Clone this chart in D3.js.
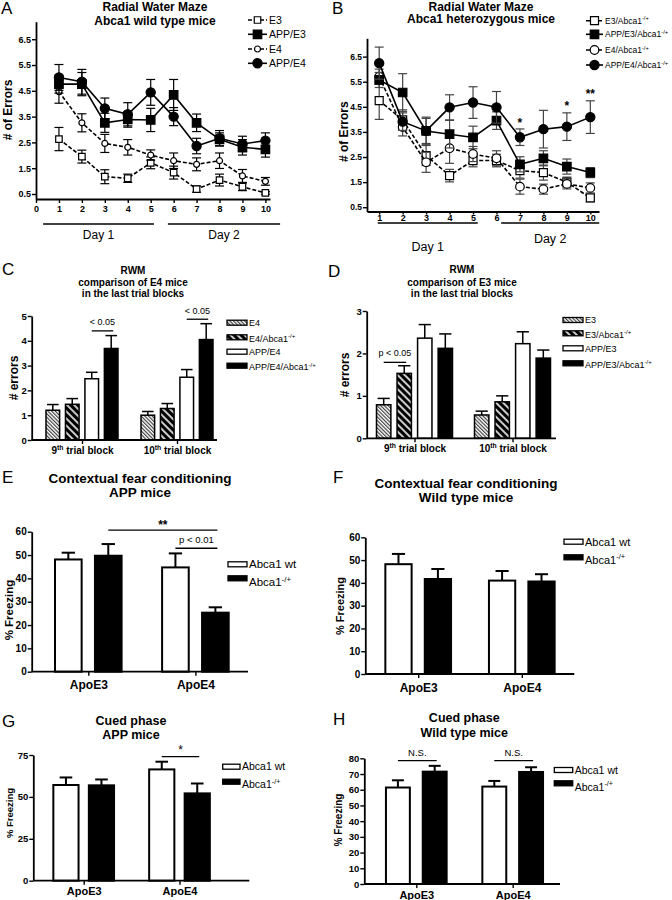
<!DOCTYPE html>
<html>
<head>
<meta charset="utf-8">
<script src="https://cdn.jsdelivr.net/npm/d3@7"></script>
<style>
body { margin: 0; background: #fff; }
svg { display: block; }
</style>
</head>
<body>
<svg id="fig" width="672" height="900"></svg>
<script>
// ---------- data ----------
var blocks = [1, 2, 3, 4, 5, 6, 7, 8, 9, 10];
var errTicks = [0.5, 1.5, 2.5, 3.5, 4.5, 5.5, 6.5];

// A: Abca1 wild type mice
var aLabels   = ["E3", "APP/E3", "E4", "APP/E4"];
var aE3       = [2.63, 1.95, 1.17, 1.11, 1.71, 1.33, 0.69, 1.04, 0.78, 0.54];
var aE3Err    = [0.45, 0.25, 0.27, 0.16, 0.23, 0.25, 0.12, 0.23, 0.15, 0.05];
var aAppE3    = [4.76, 4.76, 3.26, 3.39, 3.37, 4.34, 3.26, 2.62, 2.31, 2.23];
var aAppE3Err = [0.35, 0.45, 0.37, 0.3, 0.45, 0.6, 0.34, 0.25, 0.3, 0.3];
var aE4       = [4.47, 3.26, 2.46, 2.31, 2.01, 1.79, 1.65, 1.79, 1.2, 0.99];
var aE4Err    = [0.45, 0.35, 0.35, 0.3, 0.2, 0.3, 0.25, 0.3, 0.25, 0.15];
var aAppE4    = [5.02, 4.85, 3.82, 3.59, 4.44, 3.5, 2.36, 2.66, 2.44, 2.57];
var aAppE4Err = [0.5, 0.48, 0.4, 0.45, 0.5, 0.35, 0.3, 0.3, 0.3, 0.3];

// B: Abca1 heterozygous mice
var bLabels   = ["E3/Abca1^-/+", "APP/E3/Abca1^-/+", "E4/Abca1^-/+", "APP/E4/Abca1^-/+"];
var bE3       = [4.75, 3.98, 2.56, 1.76, 2.36, 2.36, 1.96, 1.88, 1.5, 0.87];
var bE3Err    = [0.75, 0.4, 0.4, 0.25, 0.25, 0.25, 0.3, 0.3, 0.2, 0.15];
var bAppE3    = [5.57, 5.07, 3.54, 3.41, 3.28, 3.95, 2.21, 2.45, 2.12, 1.88];
var bAppE3Err = [0.3, 0.75, 0.5, 0.55, 0.45, 0.35, 0.3, 0.3, 0.3, 0.2];
var bE4       = [5.7, 3.69, 2.29, 2.85, 2.62, 2.45, 1.32, 1.22, 1.43, 1.27];
var bE4Err    = [0.3, 0.35, 0.4, 0.6, 0.3, 0.3, 0.3, 0.2, 0.2, 0.2];
var bAppE4    = [6.24, 3.91, 3.54, 4.48, 4.67, 4.48, 3.29, 3.61, 3.71, 4.09];
var bAppE4Err = [0.64, 0.35, 0.55, 0.5, 0.63, 0.63, 0.33, 0.75, 0.55, 0.65];
var bStarBlocks = [7, 9, 10];
var bStarLevels = [3.98, 4.64, 5.13];
var bStarText   = ["*", "*", "**"];

var days = ["Day 1", "Day 2"];

// C / D: last trial blocks
var trialGroups = ["9^th^ trial block", "10^th^ trial block"];
var cLabels = ["E4", "E4/Abca1^-/+", "APP/E4", "APP/E4/Abca1^-/+"];
var cMeans  = [[1.2, 1.44, 2.47, 3.69], [1.0, 1.27, 2.53, 4.05]];
var cErrs   = [[0.23, 0.23, 0.26, 0.52], [0.15, 0.2, 0.31, 0.64]];
var dLabels = ["E3", "E3/Abca1^-/+", "APP/E3", "APP/E3/Abca1^-/+"];
var dMeans  = [[0.79, 1.53, 2.36, 2.12], [0.55, 0.86, 2.23, 1.89]];
var dErrs   = [[0.15, 0.18, 0.32, 0.34], [0.09, 0.14, 0.28, 0.19]];

// E-H: fear conditioning
var apoGroups = ["ApoE3", "ApoE4"];
var abcaLabels = ["Abca1 wt", "Abca1^-/+"];
var eMeans = [[48.1, 49.7], [44.7, 25.3]];
var eErrs  = [[2.9, 5.0], [6.0, 2.3]];
var fMeans = [[48.2, 41.7], [41.0, 40.6]];
var fErrs  = [[4.5, 4.4], [4.2, 3.2]];
var gMeans = [[57.1, 56.9], [66.4, 52.1]];
var gErrs  = [[4.5, 3.5], [4.6, 5.9]];
var hMeans = [[61.4, 71.5], [62.0, 71.3]];
var hErrs  = [[4.6, 3.7], [3.6, 3.0]];

// ---------- helpers ----------
var SANS = '"Liberation Sans", Arial, Helvetica, sans-serif';
var svg = d3.select("#fig").attr("font-family", SANS);

var defs = svg.append("defs");
defs.append("pattern").attr("id", "hatchLight").attr("patternUnits", "userSpaceOnUse")
  .attr("width", 2.6).attr("height", 2.6).attr("patternTransform", "rotate(-45)")
  .call(function (p) {
    p.append("rect").attr("width", 2.6).attr("height", 2.6).attr("fill", "#fff");
    p.append("line").attr("x1", 0.6).attr("x2", 0.6).attr("y1", 0).attr("y2", 2.6)
      .attr("stroke", "#333").attr("stroke-width", 1.1);
  });
defs.append("pattern").attr("id", "hatchDark").attr("patternUnits", "userSpaceOnUse")
  .attr("width", 5).attr("height", 5).attr("patternTransform", "rotate(-45)")
  .call(function (p) {
    p.append("rect").attr("width", 5).attr("height", 5).attr("fill", "#000");
    p.append("line").attr("x1", 1).attr("x2", 1).attr("y1", 0).attr("y2", 5)
      .attr("stroke", "#fff").attr("stroke-width", 1.6);
  });

// text with ^superscript^ segments
function rich(sel, s, size) {
  var parts = s.split("^");
  var up = 0.4 * size;
  parts.forEach(function (p, i) {
    if (!p) return;
    var t = sel.append("tspan").text(p);
    if (i % 2 === 1) t.attr("font-size", size * 0.68).attr("dy", -up);
    else if (i > 0) t.attr("dy", up);
  });
}

function letter(x, y, t) {
  svg.append("text").attr("x", x).attr("y", y).attr("font-size", 17).text(t);
}

function title(cx, ys, lines, size) {
  lines.forEach(function (l, i) {
    svg.append("text").attr("x", cx).attr("y", ys[i]).attr("text-anchor", "middle")
      .attr("font-weight", "bold").attr("font-size", size).text(l);
  });
}

function yTitle(x, cy, t, size) {
  svg.append("text").attr("transform", "translate(" + x + "," + cy + ") rotate(-90)")
    .attr("text-anchor", "middle").attr("font-weight", "bold").attr("font-size", size).text(t);
}

function styleAxis(g, size) {
  g.attr("font-family", SANS).attr("font-size", size);
  g.select(".domain").attr("stroke-width", 1.8);
  g.selectAll(".tick line").attr("stroke-width", 1.4);
  g.selectAll(".tick text").attr("font-weight", "bold").attr("fill", "#000");
}

function symbolPath(st) {
  var area = st.shape === "square" ? st.size * st.size : Math.PI * st.size * st.size;
  return d3.symbol().type(st.shape === "square" ? d3.symbolSquare : d3.symbolCircle).size(area)();
}

// ---------- line panels (A, B) ----------
function linePanel(p) {
  var x = d3.scaleLinear().domain(p.xDomain).range(p.xRange);
  var y = d3.scaleLinear().domain(p.yDomain).range(p.yRange);
  var g = svg.append("g");

  var ya = g.append("g").attr("transform", "translate(" + p.xRange[0] + ",0)")
    .call(d3.axisLeft(y).tickValues(errTicks).tickSize(4).tickSizeOuter(0)
      .tickPadding(1).tickFormat(d3.format(".1f")));
  styleAxis(ya, p.yTickSize);
  var xa = g.append("g").attr("transform", "translate(0," + p.yRange[0] + ")")
    .call(d3.axisBottom(x).tickValues(p.xTicks).tickSize(p.xTickSize).tickSizeOuter(0)
      .tickPadding(p.xPad).tickFormat(d3.format("d")));
  styleAxis(xa, 9);

  p.order.forEach(function (i) {
    var st = p.styles[i], vals = p.values[i], errs = p.errors[i];
    var eg = g.append("g").attr("stroke", p.errColor).attr("stroke-width", 1.2);
    vals.forEach(function (v, k) {
      var cx = x(blocks[k]), hi = y(v + errs[k]), lo = y(v - errs[k]);
      eg.append("line").attr("x1", cx).attr("x2", cx).attr("y1", hi).attr("y2", lo);
      eg.append("line").attr("x1", cx - 4.5).attr("x2", cx + 4.5).attr("y1", hi).attr("y2", hi);
      eg.append("line").attr("x1", cx - 4.5).attr("x2", cx + 4.5).attr("y1", lo).attr("y2", lo);
    });
    g.append("path").datum(vals)
      .attr("fill", "none").attr("stroke", "#000").attr("stroke-width", 1.6)
      .attr("stroke-dasharray", st.dash)
      .attr("d", d3.line().x(function (d, k) { return x(blocks[k]); }).y(function (d) { return y(d); }));
    g.selectAll(null).data(vals).enter().append("path")
      .attr("transform", function (d, k) { return "translate(" + x(blocks[k]) + "," + y(d) + ")"; })
      .attr("d", symbolPath(st))
      .attr("fill", st.fill).attr("stroke", "#000").attr("stroke-width", 1.2);
  });

  // day brackets
  days.forEach(function (d, i) {
    var r = p.dayRanges[i];
    g.append("line").attr("x1", x(r[0])).attr("x2", x(r[1]))
      .attr("y1", p.dayLineY).attr("y2", p.dayLineY)
      .attr("stroke", "#000").attr("stroke-width", 1.5);
    g.append("text").attr("x", x((r[0] + r[1]) / 2)).attr("y", p.dayLabelY[i])
      .attr("text-anchor", "middle").attr("font-size", p.daySize).text(d);
  });

  // legend
  p.labels.forEach(function (l, i) {
    var st = p.styles[i], ly = p.legendY[i];
    g.append("line").attr("x1", p.legendX[0]).attr("x2", p.legendX[1]).attr("y1", ly).attr("y2", ly)
      .attr("stroke", "#000").attr("stroke-width", 1.6).attr("stroke-dasharray", st.dash);
    g.append("path").attr("transform", "translate(" + (p.legendX[0] + p.legendX[1]) / 2 + "," + ly + ")")
      .attr("d", symbolPath(st)).attr("fill", st.fill).attr("stroke", "#000").attr("stroke-width", 1.2);
    var t = g.append("text").attr("x", p.legendX[1] + 2).attr("y", ly + p.legendSize * 0.36)
      .attr("font-size", p.legendSize);
    rich(t, l, p.legendSize);
  });

  return { x: x, y: y, g: g };
}

letter(1, 14, "A");
title(155, [10.5, 24.5], ["Radial Water Maze", "Abca1 wild type mice"], 12);
yTitle(12, 110, "# of Errors", 12);
linePanel({
  xDomain: [0, 10.2], xRange: [36, 270],
  yDomain: [0.306, 7.18], yRange: [199, 21.7], yTickSize: 9,
  xTicks: [0].concat(blocks), xTickSize: 4, xPad: 3,
  values: [aE3, aAppE3, aE4, aAppE4],
  errors: [aE3Err, aAppE3Err, aE4Err, aAppE4Err],
  styles: [
    { dash: "4,2", shape: "square", size: 6.5, fill: "#fff" },
    { dash: null, shape: "square", size: 8.5, fill: "#000" },
    { dash: "4,2", shape: "circle", size: 3, fill: "#fff" },
    { dash: null, shape: "circle", size: 4.6, fill: "#000" }
  ],
  order: [0, 2, 1, 3], errColor: "#000",
  dayRanges: [[0.31, 5.14], [5.75, 10.64]], dayLineY: 224, dayLabelY: [239, 239], daySize: 12,
  labels: aLabels, legendX: [248, 267], legendY: [20, 34.3, 49, 63.3], legendSize: 10.5
});

letter(332, 14, "B");
title(481, [10.5, 23], ["Radial Water Maze", "Abca1 heterozygous mice"], 12);
yTitle(347.5, 131.7, "# of Errors", 12);
var pb = linePanel({
  xDomain: [0.48, 10.37], xRange: [367, 599],
  yDomain: [0.33, 7.23], yRange: [211.5, 38.3], yTickSize: 8.5,
  xTicks: blocks, xTickSize: 3, xPad: 0,
  values: [bE3, bAppE3, bE4, bAppE4],
  errors: [bE3Err, bAppE3Err, bE4Err, bAppE4Err],
  styles: [
    { dash: "4,2", shape: "square", size: 8, fill: "#fff" },
    { dash: null, shape: "square", size: 8.5, fill: "#000" },
    { dash: "4,2", shape: "circle", size: 4.3, fill: "#fff" },
    { dash: null, shape: "circle", size: 4.6, fill: "#000" }
  ],
  order: [0, 2, 1, 3], errColor: "#444",
  dayRanges: [[0.94, 5.2], [6.2, 10.38]], dayLineY: 223, dayLabelY: [251, 243], daySize: 12.5,
  labels: bLabels, legendX: [586, 603], legendY: [20.7, 34.3, 50, 65], legendSize: 8.5
});
bStarBlocks.forEach(function (b, i) {
  pb.g.append("text").attr("x", pb.x(b)).attr("y", pb.y(bStarLevels[i]) + 7)
    .attr("text-anchor", "middle").attr("font-weight", "bold").attr("font-size", 12).text(bStarText[i]);
});

// ---------- bar panels (C-H) ----------
function barPanel(p) {
  var x0 = d3.scalePoint().domain(p.groups).range(p.groupRange);
  var x1 = d3.scaleBand().domain(d3.range(p.fills.length)).range(p.inner).paddingInner(p.pad);
  var y = d3.scaleLinear().domain(p.yDomain).range(p.yRange);
  var g = svg.append("g");
  var bw = x1.bandwidth();
  function cx(gi, si) { return x0(p.groups[gi]) + x1(si) + bw / 2; }

  p.means.forEach(function (row, gi) {
    row.forEach(function (m, si) {
      var c = cx(gi, si), top = y(m + p.errs[gi][si]);
      g.append("line").attr("x1", c).attr("x2", c).attr("y1", y(m)).attr("y2", top)
        .attr("stroke", "#000").attr("stroke-width", p.stroke);
      g.append("line").attr("x1", c - bw * p.cap / 2).attr("x2", c + bw * p.cap / 2)
        .attr("y1", top).attr("y2", top).attr("stroke", "#000").attr("stroke-width", p.stroke);
      g.append("rect").attr("x", c - bw / 2).attr("width", bw)
        .attr("y", y(m)).attr("height", y(p.yDomain[0]) - y(m))
        .attr("fill", p.fills[si]).attr("stroke", "#000").attr("stroke-width", p.stroke);
    });
  });

  var ya = g.append("g").attr("transform", "translate(" + p.axisX + ",0)")
    .call(d3.axisLeft(y).tickValues(p.yTicks).tickSize(4).tickSizeOuter(0).tickPadding(1)
      .tickFormat(d3.format("d")));
  styleAxis(ya, p.yTickSize);
  var base = y(p.yDomain[0]);
  var xa = g.append("g").attr("transform", "translate(0," + base + ")")
    .call(d3.axisBottom(x0).tickSize(4).tickPadding(p.xPad));
  styleAxis(xa, p.xLabelSize);
  xa.select(".domain").remove();
  xa.selectAll(".tick text").each(function (d) {
    var t = d3.select(this).text("");
    rich(t, d, p.xLabelSize);
  });
  g.append("line").attr("x1", p.axisX).attr("x2", p.axisRight).attr("y1", base).attr("y2", base)
    .attr("stroke", "#000").attr("stroke-width", 1.8);

  (p.brackets || []).forEach(function (b) {
    var ly = y(b.level), xa1 = cx(b.from[0], b.from[1]), xb = cx(b.to[0], b.to[1]) + 2;
    g.append("line").attr("x1", xa1).attr("x2", xb).attr("y1", ly).attr("y2", ly)
      .attr("stroke", "#000").attr("stroke-width", 1.3);
    g.append("text").attr("x", (xa1 + xb) / 2).attr("y", ly - b.gap)
      .attr("text-anchor", "middle").attr("font-size", b.size)
      .attr("font-weight", b.bold ? "bold" : "normal").text(b.text);
  });

  p.labels.forEach(function (l, i) {
    var ly = p.legendY[i];
    g.append("rect").attr("x", p.legendX).attr("width", p.legendW)
      .attr("y", ly - p.legendH / 2).attr("height", p.legendH)
      .attr("fill", p.fills[i]).attr("stroke", "#000").attr("stroke-width", 1.3);
    var shift = l.indexOf("^") >= 0 ? p.supShift : 0;
    var t = g.append("text").attr("x", p.legendX + p.legendW + 2)
      .attr("y", ly + p.legendSize * 0.36 + shift).attr("font-size", p.legendSize);
    rich(t, l, p.legendSize);
  });
}

var rwmFills = ["url(#hatchLight)", "url(#hatchDark)", "#fff", "#000"];
var abcaFills = ["#fff", "#000"];

letter(2, 275, "C");
title(133, [273.5, 286, 297], ["RWM", "comparison of E4 mice", "in the last trial blocks"], 10);
yTitle(18, 378, "# errors", 12);
barPanel({
  groups: trialGroups, groupRange: [82, 177], inner: [-36, 36], pad: 0.3,
  yDomain: [0, 5], yRange: [440, 316], yTicks: [0, 1, 2, 3, 4, 5], yTickSize: 9.5,
  axisX: 31.7, axisRight: 217, xPad: 3, xLabelSize: 10,
  means: cMeans, errs: cErrs, fills: rwmFills, stroke: 1.5, cap: 0.85,
  brackets: [
    { from: [0, 2], to: [0, 3], level: 4.4, text: "< 0.05", size: 9, gap: 6 },
    { from: [1, 2], to: [1, 3], level: 4.87, text: "< 0.05", size: 9, gap: 5 }
  ],
  labels: cLabels, legendX: 227, legendW: 20, legendH: 5,
  legendY: [322.7, 337.3, 351.7, 365.7], legendSize: 9, supShift: 1.5
});

letter(328, 277, "D");
title(462, [273, 285.5, 297], ["RWM", "comparison of E3 mice", "in the last trial blocks"], 10);
yTitle(349, 375, "# errors", 12);
barPanel({
  groups: trialGroups, groupRange: [414.5, 512.5], inner: [-38, 38], pad: 0.3,
  yDomain: [0, 3], yRange: [438.3, 311], yTicks: [0, 1, 2, 3], yTickSize: 9.5,
  axisX: 366.7, axisRight: 556, xPad: 3, xLabelSize: 10,
  means: dMeans, errs: dErrs, fills: rwmFills, stroke: 1.5, cap: 0.85,
  brackets: [
    { from: [0, 0], to: [0, 1], level: 1.79, text: "p < 0.05", size: 9, gap: 6.3 }
  ],
  labels: dLabels, legendX: 563, legendW: 20, legendH: 5,
  legendY: [320, 333.3, 348.3, 363.3], legendSize: 9, supShift: 1.5
});

letter(2, 483, "E");
title(140, [483, 497], ["Contextual fear conditioning", "APP mice"], 13.5);
yTitle(13, 610, "% Freezing", 11.5);
barPanel({
  groups: apoGroups, groupRange: [88.3, 195.4], inner: [-33.3, 33.3], pad: 1 / 3,
  yDomain: [0, 60], yRange: [671.7, 531.7], yTicks: [0, 10, 20, 30, 40, 50, 60], yTickSize: 10,
  axisX: 31.7, axisRight: 248, xPad: 5, xLabelSize: 12,
  means: eMeans, errs: eErrs, fills: abcaFills, stroke: 2, cap: 0.5,
  brackets: [
    { from: [0, 1], to: [1, 1], level: 60.7, text: "**", size: 12, gap: 1, bold: true },
    { from: [1, 0], to: [1, 1], level: 52.9, text: "p < 0.01", size: 9.5, gap: 5 }
  ],
  labels: abcaLabels, legendX: 228, legendW: 19, legendH: 5,
  legendY: [564.3, 578.3], legendSize: 11.5, supShift: 4
});

letter(333, 483, "F");
title(466, [488, 502], ["Contextual fear conditioning", "Wild type mice"], 13.5);
yTitle(344, 606, "% Freezing", 11);
barPanel({
  groups: apoGroups, groupRange: [418.2, 521.8], inner: [-32.85, 32.85], pad: 1 / 3,
  yDomain: [0, 60], yRange: [674, 537.3], yTicks: [0, 10, 20, 30, 40, 50, 60], yTickSize: 10,
  axisX: 365.3, axisRight: 574.3, xPad: 5, xLabelSize: 12,
  means: fMeans, errs: fErrs, fills: abcaFills, stroke: 2, cap: 0.5,
  labels: abcaLabels, legendX: 564, legendW: 19, legendH: 5,
  legendY: [541.7, 557.3], legendSize: 11, supShift: 2.5
});

letter(2, 727, "G");
title(131, [725, 738.5], ["Cued phase", "APP mice"], 12.5);
yTitle(12.5, 813, "% Freezing", 9.5);
barPanel({
  groups: apoGroups, groupRange: [83.7, 179.5], inner: [-30.35, 30.35], pad: 0.29,
  yDomain: [0, 75], yRange: [880.7, 755], yTicks: [0, 25, 50, 75], yTickSize: 9.5,
  axisX: 33.3, axisRight: 249.3, xPad: 3, xLabelSize: 11,
  means: gMeans, errs: gErrs, fills: abcaFills, stroke: 2, cap: 0.5,
  brackets: [
    { from: [1, 0], to: [1, 1], level: 74, text: "*", size: 12, gap: 3 }
  ],
  labels: abcaLabels, legendX: 222.7, legendW: 17.3, legendH: 5,
  legendY: [766.7, 781.7], legendSize: 10.5, supShift: 3
});

letter(333, 725, "H");
title(464.3, [721.5, 737], ["Cued phase", "Wild type mice"], 12.5);
yTitle(342, 820, "% Freezing", 10);
barPanel({
  groups: apoGroups, groupRange: [416.3, 512.7], inner: [-30.35, 30.35], pad: 0.35,
  yDomain: [0, 80], yRange: [884, 758.3], yTicks: [0, 10, 20, 30, 40, 50, 60, 70, 80], yTickSize: 9.5,
  axisX: 364.3, axisRight: 560, xPad: 3, xLabelSize: 11,
  means: hMeans, errs: hErrs, fills: abcaFills, stroke: 2, cap: 0.5,
  brackets: [
    { from: [0, 0], to: [0, 1], level: 78.5, text: "N.S.", size: 9.5, gap: 4.7 },
    { from: [1, 0], to: [1, 1], level: 78.5, text: "N.S.", size: 9.5, gap: 4.7 }
  ],
  labels: abcaLabels, legendX: 554.3, legendW: 18.4, legendH: 5,
  legendY: [770, 783.3], legendSize: 10.5, supShift: 3.5
});
</script>
</body>
</html>
